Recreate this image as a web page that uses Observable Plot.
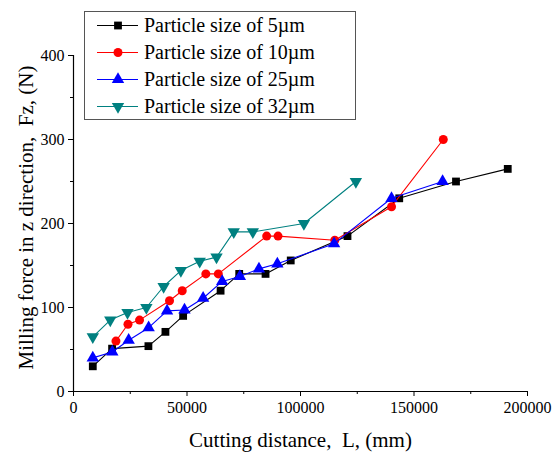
<!DOCTYPE html>
<html><head><meta charset="utf-8">
<script src="https://cdn.jsdelivr.net/npm/d3@7"></script>
<script src="https://cdn.jsdelivr.net/npm/@observablehq/plot@0.6"></script>
<style>
body{margin:0;background:#fff;font-family:"Liberation Serif","Times New Roman",serif;}
#wrap{position:relative;width:553px;height:455px;}
#legend{position:absolute;left:84px;top:11px;width:272px;height:109px;box-sizing:border-box;border:1px solid #555;background:#fff;}
.row{position:absolute;left:0;height:27px;width:270px;}
.row svg{position:absolute;left:0;top:0;}
.row span{position:absolute;left:59px;top:0;line-height:27px;font-size:20px;color:#000;white-space:nowrap;}
</style>
</head><body>
<div id="wrap"><div id="legend"></div></div>
<script>
// Data
const seriesNames = ["Particle size of 5µm","Particle size of 10µm","Particle size of 25µm","Particle size of 32µm"];
const seriesColors = ["#000000","#ff0000","#0000ff","#008080"];

const x5 = [8500,17000,33000,40500,48300,64800,73000,84600,95700,120700,143500,168500,191300];
const y5 = [30,51,54,71,90,120,140,140,156,185,230,250,265];

const x10 = [18700,24000,29100,42300,47900,58300,63800,85100,90100,115100,140100,162900];
const y10 = [60,80,85,108,120,140,140,185,185,180,220,300];

const x25 = [8500,17100,24300,33100,41200,48900,57100,65500,73300,81700,89800,114800,140100,162600];
const y25 = [40,47,61,76,96,97,111,131,137,146,152,176,230,250];

const x32 = [8500,16200,23800,32100,39700,47300,55600,63000,70600,79000,101500,124400];
const y32 = [65,85,94,100,125,144,155,160,190,190,200,250];

const xTicks = [0,50000,100000,150000,200000];
const xMinorTicks = [25000,75000,125000,175000];
const yTicks = [0,100,200,300,400];
const yMinorTicks = [50,150,250,350];

const xTitle = "Cutting distance,\u00a0\u00a0L, (mm)";
const yTitle = "Milling force in z direction,\u00a0\u00a0Fz, (N)";

const seriesX = [x5,x10,x25,x32];
const seriesY = [y5,y10,y25,y32];
const symbols = ["square","circle","triangle","triangle"];
const rotations = [0,0,0,180];
const radii = [4.4,4.5,4.6,4.6];
const FONT = '"Liberation Serif","Times New Roman",serif';

const marks = [];
marks.push(Plot.axisX({ticks: xMinorTicks, tickSize: 3, tickFormat: () => "", label: null}));
marks.push(Plot.axisX({ticks: xTicks, tickSize: 5, tickFormat: () => "", label: null}));
marks.push(Plot.axisY({ticks: yMinorTicks, tickSize: 3, tickFormat: () => "", label: null}));
marks.push(Plot.axisY({ticks: yTicks, tickSize: 5, tickFormat: () => "", label: null}));
// tick labels drawn via the scales with an explicit serif font
marks.push(Plot.text(xTicks, {x: d => d, frameAnchor: "bottom", lineAnchor: "top", textAnchor: "middle", dy: 10, text: d => String(d), fontSize: 16, fontFamily: FONT, fill: "#000"}));
marks.push(Plot.text(yTicks, {y: d => d, frameAnchor: "left", lineAnchor: "middle", textAnchor: "end", dx: -9, text: d => String(d), fontSize: 16, fontFamily: FONT, fill: "#000"}));
marks.push(Plot.ruleY([0], {stroke: "#000", strokeWidth: 1.2}));
marks.push(Plot.ruleX([0], {stroke: "#000", strokeWidth: 1.2}));

seriesNames.forEach((name, i) => {
  const data = seriesX[i].map((xv, j) => ({x: xv, y: seriesY[i][j]}));
  marks.push(Plot.line(data, {x: "x", y: "y", stroke: seriesColors[i], strokeWidth: 1.1}));
  marks.push(Plot.dot(data, {x: "x", y: "y", fill: seriesColors[i], stroke: "none", symbol: symbols[i], r: radii[i], rotate: rotations[i]}));
});

marks.push(Plot.text([xTitle], {frameAnchor: "bottom", textAnchor: "middle", lineAnchor: "middle", dy: 49, fontSize: 21, fontFamily: FONT, text: d => d, fill: "#000"}));
marks.push(Plot.text([yTitle], {frameAnchor: "left", textAnchor: "middle", lineAnchor: "middle", rotate: -90, dx: -47, dy: -6, fontSize: 21, fontFamily: FONT, text: d => d, fill: "#000"}));

const chart = Plot.plot({
  width: 553, height: 455,
  marginLeft: 73, marginRight: 26, marginTop: 55, marginBottom: 64,
  x: {domain: [0, 200000]},
  y: {domain: [0, 400]},
  style: {fontFamily: "Liberation Serif, serif", fontSize: "16px", color: "#000", background: "#fff", overflow: "visible"},
  marks
});
chart.style.position = "absolute";
chart.style.left = "0";
chart.style.top = "0";
const wrap = document.getElementById("wrap");
wrap.insertBefore(chart, wrap.firstChild);

// Legend
const legend = document.getElementById("legend");
seriesNames.forEach((name, i) => {
  const row = document.createElement("div");
  row.className = "row";
  row.style.top = (27 * i) + "px";
  const svg = d3.create("svg").attr("width", 60).attr("height", 27);
  svg.append("line").attr("x1", 12).attr("x2", 53).attr("y1", 13.5).attr("y2", 13.5)
    .attr("stroke", seriesColors[i]).attr("stroke-width", 1.1);
  const sym = {square: d3.symbolSquare, circle: d3.symbolCircle, triangle: d3.symbolTriangle}[symbols[i]];
  svg.append("path").attr("d", d3.symbol(sym, Math.PI * radii[i] * radii[i])())
    .attr("transform", `translate(33,13.5) rotate(${rotations[i]})`)
    .attr("fill", seriesColors[i]);
  row.appendChild(svg.node());
  const span = document.createElement("span");
  span.textContent = name;
  row.appendChild(span);
  legend.appendChild(row);
});
</script>
</body></html>
